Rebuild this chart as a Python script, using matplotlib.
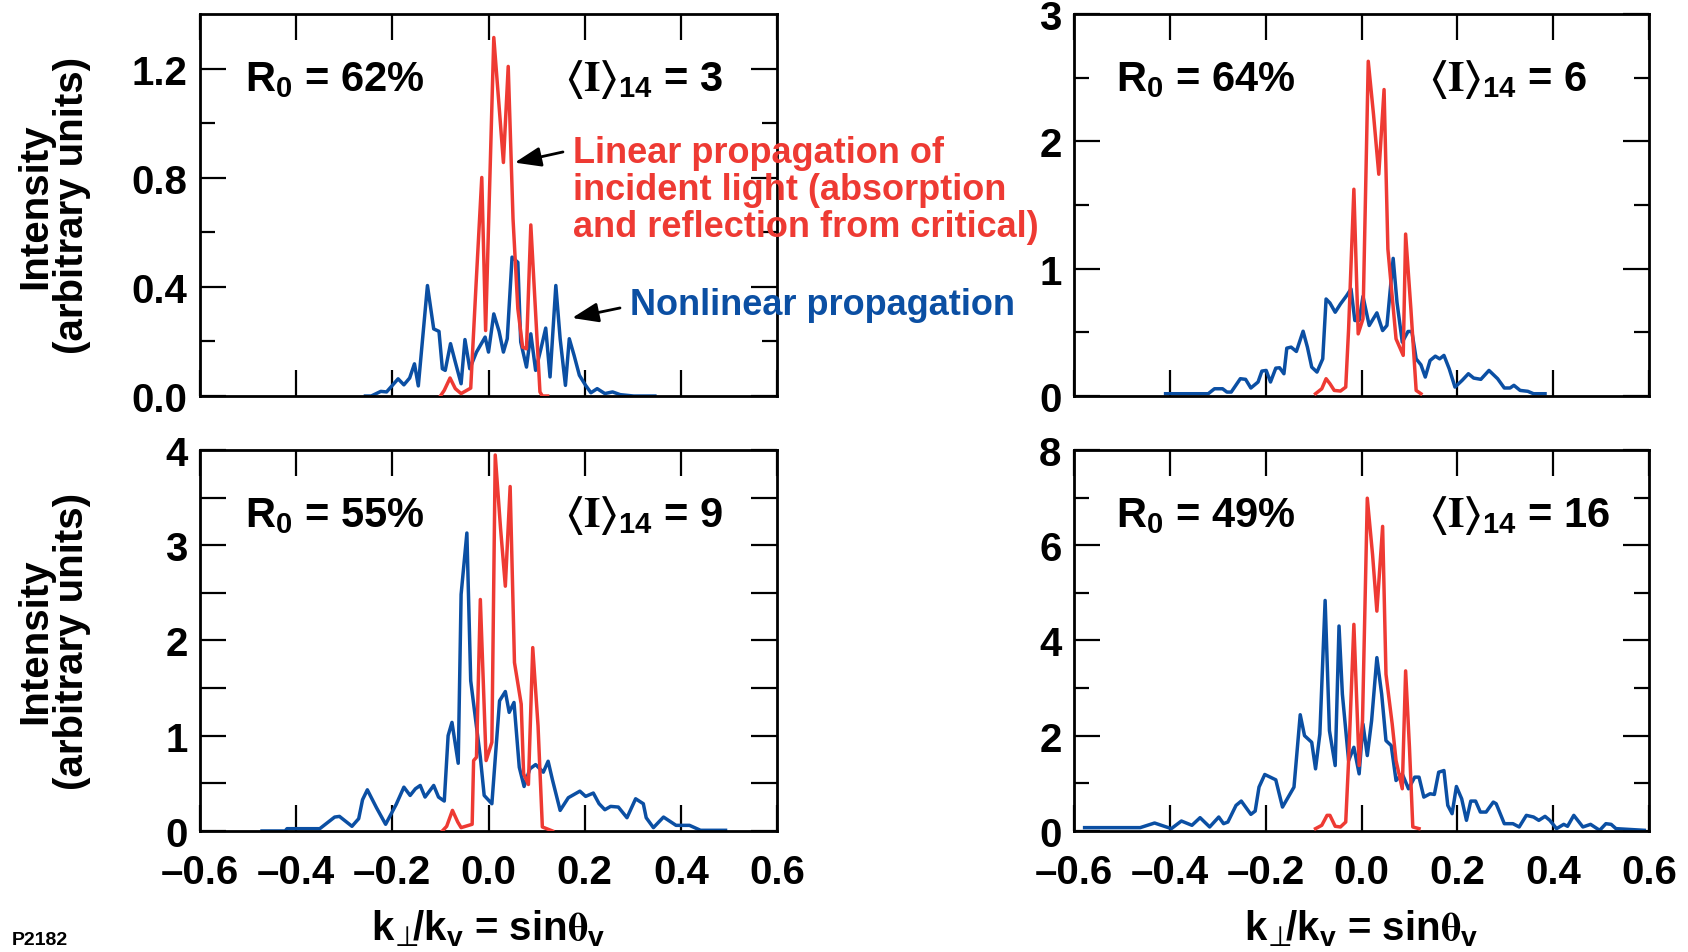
import numpy as np
import matplotlib
matplotlib.use("Agg")
import matplotlib.pyplot as plt

plt.rcParams["font.family"] = ["Liberation Sans", "DejaVu Sans"]
plt.rcParams["font.weight"] = "bold"
plt.rcParams["mathtext.fontset"] = "custom"
plt.rcParams["mathtext.rm"] = "STIXGeneral:weight=bold"
plt.rcParams["mathtext.sf"] = "DejaVu Sans:weight=normal"
plt.rcParams["mathtext.default"] = "regular"

RED = "#EE3A33"
BLUE = "#0B4FA3"

# ---- data: (k_perp/k_v, intensity) ----
nonlinear_3 = np.array([
    (-0.256, 0.0), (-0.244, 0.0), (-0.224, 0.017), (-0.212, 0.015), (-0.188, 0.063),
    (-0.176, 0.041), (-0.164, 0.066), (-0.154, 0.118), (-0.146, 0.037), (-0.127, 0.405),
    (-0.114, 0.246), (-0.103, 0.237), (-0.096, 0.100), (-0.090, 0.094), (-0.079, 0.192),
    (-0.069, 0.124), (-0.057, 0.045), (-0.049, 0.207), (-0.039, 0.100), (-0.025, 0.161),
    (-0.007, 0.216), (0.000, 0.161), (0.011, 0.301), (0.022, 0.237), (0.031, 0.161),
    (0.039, 0.210), (0.049, 0.509), (0.061, 0.490), (0.067, 0.198), (0.079, 0.106),
    (0.088, 0.228), (0.098, 0.094), (0.109, 0.173), (0.119, 0.249), (0.128, 0.070),
    (0.140, 0.405), (0.149, 0.210), (0.160, 0.039), (0.168, 0.210), (0.178, 0.149),
    (0.189, 0.076), (0.202, 0.039), (0.213, 0.012), (0.226, 0.027), (0.242, 0.009),
    (0.258, 0.015), (0.274, 0.005), (0.302, 0.0), (0.346, 0.0),
])
linear_3 = np.array([
    (-0.100, 0.0), (-0.092, 0.021), (-0.080, 0.066), (-0.069, 0.027), (-0.057, 0.009),
    (-0.037, 0.029), (-0.026, 0.405), (-0.014, 0.801), (-0.006, 0.240), (0.011, 1.314),
    (0.031, 0.856), (0.041, 1.208), (0.051, 0.649), (0.061, 0.320), (0.071, 0.179),
    (0.079, 0.173), (0.088, 0.627), (0.099, 0.271), (0.107, 0.015), (0.112, 0.0),
    (0.123, 0.0),
])

nonlinear_6 = np.array([
    (-0.409, 0.018), (-0.320, 0.018), (-0.307, 0.057), (-0.290, 0.057), (-0.281, 0.031),
    (-0.272, 0.031), (-0.253, 0.136), (-0.242, 0.131), (-0.231, 0.063), (-0.216, 0.110),
    (-0.208, 0.196), (-0.199, 0.201), (-0.190, 0.110), (-0.179, 0.219), (-0.171, 0.222),
    (-0.162, 0.175), (-0.156, 0.376), (-0.147, 0.384), (-0.136, 0.350), (-0.122, 0.509),
    (-0.113, 0.384), (-0.104, 0.227), (-0.093, 0.188), (-0.081, 0.292), (-0.074, 0.762),
    (-0.066, 0.731), (-0.055, 0.658), (-0.044, 0.723), (-0.031, 0.789), (-0.022, 0.841),
    (-0.014, 0.593), (-0.005, 0.593), (0.003, 0.783), (0.016, 0.554), (0.032, 0.653),
    (0.044, 0.514), (0.053, 0.554), (0.066, 1.081), (0.074, 0.736), (0.085, 0.423),
    (0.097, 0.507), (0.105, 0.507), (0.114, 0.292), (0.124, 0.245), (0.133, 0.149),
    (0.143, 0.279), (0.154, 0.313), (0.163, 0.292), (0.172, 0.319), (0.183, 0.214),
    (0.195, 0.070), (0.210, 0.123), (0.223, 0.175), (0.234, 0.141), (0.249, 0.131),
    (0.266, 0.201), (0.284, 0.136), (0.298, 0.063), (0.310, 0.063), (0.318, 0.084),
    (0.331, 0.044), (0.347, 0.037), (0.359, 0.018), (0.383, 0.018),
])
linear_6 = np.array([
    (-0.096, 0.018), (-0.083, 0.057), (-0.074, 0.136), (-0.066, 0.097), (-0.057, 0.044),
    (-0.044, 0.039), (-0.033, 0.070), (-0.027, 0.527), (-0.016, 1.624), (-0.007, 0.488),
    (0.003, 0.606), (0.014, 2.629), (0.025, 2.211), (0.036, 1.742), (0.047, 2.407),
    (0.055, 1.154), (0.072, 0.449), (0.087, 0.319), (0.092, 1.272), (0.103, 0.684),
    (0.114, 0.044), (0.124, 0.018),
])

nonlinear_9 = np.array([
    (-0.471, 0.0), (-0.423, 0.0), (-0.419, 0.024), (-0.351, 0.024), (-0.320, 0.146),
    (-0.310, 0.153), (-0.284, 0.049), (-0.270, 0.129), (-0.262, 0.328), (-0.252, 0.432),
    (-0.233, 0.244), (-0.214, 0.070), (-0.192, 0.279), (-0.176, 0.460), (-0.163, 0.373),
    (-0.152, 0.443), (-0.142, 0.478), (-0.132, 0.356), (-0.114, 0.478), (-0.104, 0.356),
    (-0.092, 0.314), (-0.084, 1.001), (-0.076, 1.140), (-0.063, 0.711), (-0.057, 2.483),
    (-0.045, 3.128), (-0.037, 1.576), (-0.017, 0.774), (-0.009, 0.373), (0.007, 0.286),
    (0.023, 1.367), (0.035, 1.464), (0.043, 1.245), (0.053, 1.349), (0.064, 0.669),
    (0.074, 0.467), (0.086, 0.652), (0.098, 0.697), (0.114, 0.617), (0.124, 0.732),
    (0.133, 0.537), (0.149, 0.216), (0.166, 0.349), (0.190, 0.418), (0.202, 0.363),
    (0.218, 0.398), (0.230, 0.286), (0.242, 0.223), (0.254, 0.258), (0.270, 0.251),
    (0.288, 0.139), (0.306, 0.338), (0.322, 0.286), (0.328, 0.139), (0.343, 0.035),
    (0.364, 0.146), (0.390, 0.059), (0.418, 0.059), (0.441, 0.007), (0.493, 0.007),
])
linear_9 = np.array([
    (-0.096, 0.0), (-0.087, 0.049), (-0.075, 0.216), (-0.064, 0.094), (-0.057, 0.035),
    (-0.034, 0.070), (-0.031, 0.739), (-0.025, 0.774), (-0.017, 2.430), (-0.005, 0.739),
    (0.007, 0.931), (0.014, 3.947), (0.025, 3.180), (0.035, 2.570), (0.045, 3.616),
    (0.054, 1.768), (0.068, 1.332), (0.073, 0.600), (0.083, 0.488), (0.092, 1.925),
    (0.103, 1.105), (0.112, 0.042), (0.133, 0.0),
])

nonlinear_16 = np.array([
    (-0.578, 0.07), (-0.462, 0.07), (-0.432, 0.167), (-0.397, 0.049), (-0.376, 0.209),
    (-0.354, 0.119), (-0.337, 0.279), (-0.317, 0.084), (-0.298, 0.293), (-0.288, 0.153),
    (-0.279, 0.188), (-0.262, 0.537), (-0.251, 0.628), (-0.231, 0.349), (-0.222, 0.418),
    (-0.214, 0.921), (-0.202, 1.186), (-0.179, 1.074), (-0.165, 0.502), (-0.153, 0.711),
    (-0.141, 0.921), (-0.128, 2.441), (-0.119, 2.001), (-0.104, 1.862), (-0.096, 1.304),
    (-0.087, 2.036), (-0.076, 4.840), (-0.067, 2.106), (-0.055, 1.374), (-0.047, 4.303),
    (-0.040, 2.873), (-0.027, 1.478), (-0.016, 1.757), (-0.005, 1.199), (0.003, 2.245),
    (0.012, 1.583), (0.021, 2.315), (0.032, 3.640), (0.042, 2.873), (0.051, 1.897),
    (0.062, 1.792), (0.072, 1.060), (0.085, 1.199), (0.098, 0.886), (0.111, 1.130),
    (0.120, 1.130), (0.130, 0.711), (0.143, 0.781), (0.152, 0.767), (0.161, 1.234),
    (0.172, 1.269), (0.180, 0.537), (0.189, 0.363), (0.198, 0.934), (0.209, 0.676),
    (0.219, 0.223), (0.228, 0.628), (0.238, 0.628), (0.248, 0.397), (0.260, 0.397),
    (0.275, 0.607), (0.281, 0.572), (0.298, 0.153), (0.316, 0.153), (0.329, 0.084),
    (0.344, 0.328), (0.359, 0.293), (0.370, 0.223), (0.383, 0.307), (0.393, 0.223),
    (0.407, 0.049), (0.422, 0.139), (0.430, 0.098), (0.443, 0.328), (0.462, 0.084),
    (0.478, 0.139), (0.497, 0.014), (0.510, 0.153), (0.521, 0.139), (0.531, 0.049),
    (0.590, 0.014),
])
linear_16 = np.array([
    (-0.096, 0.049), (-0.083, 0.119), (-0.072, 0.328), (-0.066, 0.328), (-0.055, 0.098),
    (-0.044, 0.084), (-0.033, 0.188), (-0.027, 1.478), (-0.016, 4.338), (-0.005, 1.374),
    (0.002, 2.315), (0.012, 6.987), (0.023, 5.802), (0.032, 4.616), (0.044, 6.395),
    (0.051, 3.291), (0.064, 2.245), (0.072, 1.478), (0.085, 0.886), (0.092, 3.361),
    (0.100, 1.757), (0.107, 0.084), (0.120, 0.049),
])

nonlinear = [nonlinear_3, nonlinear_6, nonlinear_9, nonlinear_16]
linear = [linear_3, linear_6, linear_9, linear_16]

r0_values = [62, 64, 55, 49]
i14_values = [3, 6, 9, 16]

x_ticks = [-0.6, -0.4, -0.2, 0.0, 0.2, 0.4, 0.6]
x_tick_labels = ["\u20130.6", "\u20130.4", "\u20130.2", "0.0", "0.2", "0.4", "0.6"]

y_max = [1.4, 3, 4, 8]
y_major = [[0, 0.4, 0.8, 1.2], [0, 1, 2, 3], [0, 1, 2, 3, 4], [0, 2, 4, 6, 8]]
y_major_labels = [["0.0", "0.4", "0.8", "1.2"], ["0", "1", "2", "3"],
                  ["0", "1", "2", "3", "4"], ["0", "2", "4", "6", "8"]]
y_minor = [[0.2, 0.6, 1.0], [0.5, 1.5, 2.5], [0.5, 1.5, 2.5, 3.5], [1, 3, 5, 7]]

# ---- layout ----
fig = plt.figure(figsize=(16.88, 9.53), dpi=100)
col_left = [0.1185, 0.6363]
col_width = [0.3418, 0.3406]
row_bottom = [0.5834, 0.1270]
row_height = [0.4008, 0.3998]
r_text_x = [0.078, 0.073]
i_text_x = [0.633, 0.617]

axes = []
for k in range(4):
    row, col = divmod(k, 2)
    ax = fig.add_axes([col_left[col], row_bottom[row], col_width[col], row_height[row]])
    axes.append(ax)

    ax.plot(nonlinear[k][:, 0], nonlinear[k][:, 1], color=BLUE, lw=2.5, zorder=2)
    ax.plot(linear[k][:, 0], linear[k][:, 1], color=RED, lw=2.5, zorder=3)

    ax.set_xlim(-0.6, 0.6)
    ax.set_ylim(0, y_max[k])
    ax.set_xticks(x_ticks)
    if row == 1:
        ax.set_xticklabels(x_tick_labels)
        ax.set_xlabel(r"k$_{\!\mathsf{\bot}}\!\!$/k$_v$ = sin$\mathrm{\theta}_v$", fontsize=29,
                      fontweight="bold", labelpad=12)
    else:
        ax.set_xticklabels([])
    ax.set_yticks(y_major[k])
    ax.set_yticklabels(y_major_labels[k])
    ax.set_yticks(y_minor[k], minor=True)

    minor_len = 19 if k == 2 else 11
    ax.tick_params(axis="both", which="major", direction="in", length=19, width=1.6,
                   top=True, right=True, labelsize=29)
    ax.tick_params(axis="y", which="minor", direction="in", length=minor_len, width=1.6,
                   left=True, right=True)
    ax.tick_params(axis="x", which="major", pad=16)
    ax.tick_params(axis="y", which="major", pad=9)
    for lab in ax.get_xticklabels() + ax.get_yticklabels():
        lab.set_fontweight("bold")
    for sp in ax.spines.values():
        sp.set_linewidth(2.0)

    ax.text(r_text_x[col], 0.80, f"R$_0$ = {r0_values[k]}%", transform=ax.transAxes,
            fontsize=30, fontweight="bold", va="baseline", ha="left")
    ax.text(i_text_x[col], 0.80, r"$\langle\mathrm{I}\rangle_{14}$" + f" = {i14_values[k]}",
            transform=ax.transAxes, fontsize=30, fontweight="bold", va="baseline", ha="left")

# y labels on left column
for yc in [0.784, 0.327]:
    fig.text(0.0317, yc, "Intensity\n(arbitrary units)", rotation=90, ha="center",
             va="center", fontsize=29, fontweight="bold", linespacing=0.95,
             multialignment="center")

# callouts
red_lines = ["Linear propagation of", "incident light (absorption",
             "and reflection from critical)"]
red_baselines = [0.8290, 0.7901, 0.7513]
for txt, yb in zip(red_lines, red_baselines):
    fig.text(0.3395, yb, txt, color=RED, fontsize=26, fontweight="bold", va="baseline")
fig.text(0.3732, 0.6695, "Nonlinear propagation", color=BLUE, fontsize=26,
         fontweight="bold", va="baseline")

arrow_style = dict(arrowstyle="-|>,head_length=0.8,head_width=0.3", color="black",
                   lw=2.0, mutation_scale=20, shrinkA=0, shrinkB=0)
axes[0].annotate("", xy=(0.3049, 0.8283), xytext=(0.3335, 0.8395),
                 xycoords="figure fraction", textcoords="figure fraction",
                 arrowprops=arrow_style)
axes[0].annotate("", xy=(0.3389, 0.6653), xytext=(0.3673, 0.6758),
                 xycoords="figure fraction", textcoords="figure fraction",
                 arrowprops=arrow_style)

fig.text(0.007, 0.004, "P2182", fontsize=14, fontweight="bold", va="bottom", ha="left")

fig.savefig("out.png", dpi=100)
